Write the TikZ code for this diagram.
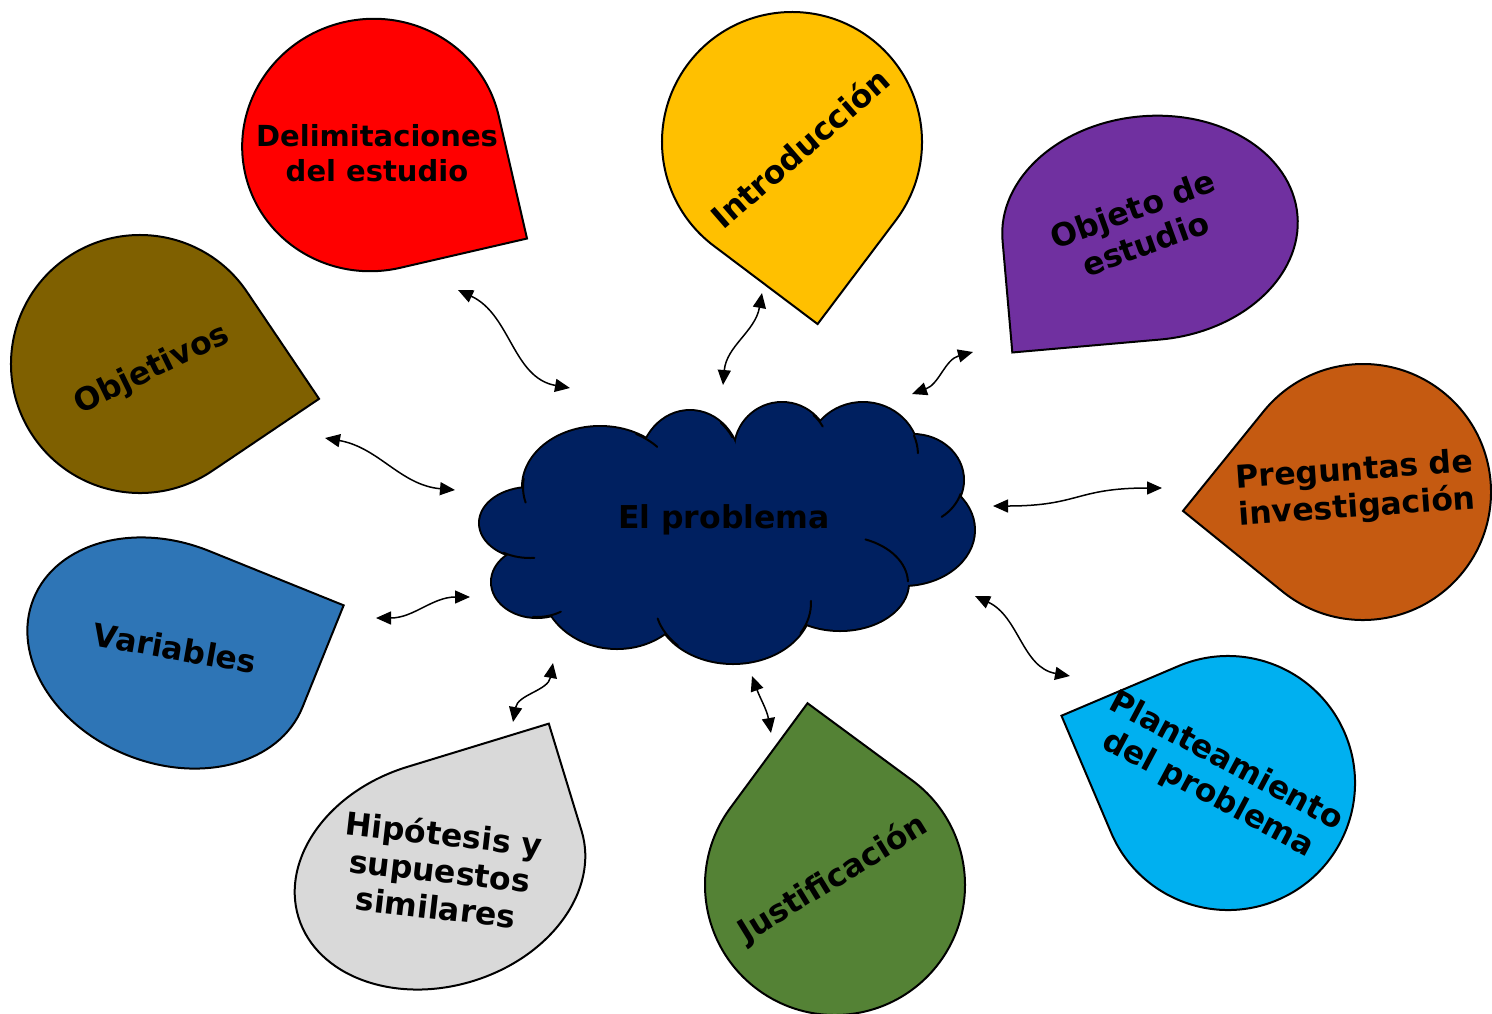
\documentclass[tikz,border=0pt]{standalone}
\usepackage{fontspec}
\setmainfont{DejaVu Sans}
\usepackage{xcolor}
\definecolor{delimred}{HTML}{FF0000}
\definecolor{introyellow}{HTML}{FFC000}
\definecolor{objpurple}{HTML}{7030A0}
\definecolor{goalolive}{HTML}{7F6000}
\definecolor{askorange}{HTML}{C55A11}
\definecolor{varblue}{HTML}{2E75B6}
\definecolor{hypgrey}{HTML}{D9D9D9}
\definecolor{justgreen}{HTML}{548235}
\definecolor{plancyan}{HTML}{00B0F0}
\definecolor{probnavy}{HTML}{002060}
\usepackage{tikz}
\usetikzlibrary{arrows.meta}

\begin{document}
\begin{tikzpicture}[x=1pt, y=1pt,
    every node/.style={font=\fontsize{31.5}{37}\selectfont\bfseries},
    lbl/.style={align=center, inner sep=0pt},
    pics/drop/.style={code={
      \path[draw=black, line width=2pt, fill=#1]
        (1,0) arc[start angle=0, end angle=270, radius=1] -- (1,-1) -- cycle;}},
    puffline/.style={draw=black, line width=2pt, line cap=round},
    conn/.style={{Triangle[length=15pt,width=13pt]}-{Triangle[length=15pt,width=13pt]},
                 line width=1.5pt}]
  \useasboundingbox (0,0) rectangle (1492,-1013);
  \pic[rotate=13, xscale=130, yscale=126]  at (372,-145)  {drop=delimred};
  \pic[rotate=-37, xscale=130, yscale=130] at (792,-142)  {drop=introyellow};
  \pic[rotate=-85, xscale=112, yscale=148] at (1150,-228) {drop=objpurple};
  \pic[rotate=34, xscale=129, yscale=129]  at (140,-364)  {drop=goalolive};
  \pic[rotate=-129, xscale=128, yscale=128] at (1363,-492) {drop=askorange};
  \pic[rotate=68, xscale=110, yscale=145]  at (168,-653)  {drop=varblue};
  \pic[rotate=107, xscale=112, yscale=148] at (440,-874)  {drop=hypgrey};
  \pic[rotate=143.6, xscale=130, yscale=130] at (835,-885) {drop=justgreen};
  \pic[rotate=203, xscale=127, yscale=127] at (1228,-783) {drop=plancyan};
  % cloud: outline pass, then fill pass, then inner strokes
  \foreach \cx/\cy/\rx/\ry in {530/523/50/35, 600/487/77/60, 690/467/50/56,
      782/450/47/47, 863/455/55/52, 913/480/50/45, 903/530/71/55,
      840/583/68/47, 733/603/78/60, 617/583/75/65, 537/582/45/35}
    \draw[line width=4pt] (\cx,-\cy) ellipse[x radius=\rx, y radius=\ry];
  \foreach \cx/\cy/\rx/\ry in {530/523/50/35, 600/487/77/60, 690/467/50/56,
      782/450/47/47, 863/455/55/52, 913/480/50/45, 903/530/71/55,
      840/583/68/47, 733/603/78/60, 617/583/75/65, 537/582/45/35, 727/533/190/70}
    \fill[probnavy] (\cx,-\cy) ellipse[x radius=\rx, y radius=\ry];
  \foreach \cx/\cy/\rx/\ry/\sa/\ea in {600/487/77/60/62/42, 600/487/77/60/172/195,
      690/467/50/56/52/32, 782/450/47/47/48/30, 863/455/55/52/22/2,
      913/480/50/45/-18/-55, 840/583/68/47/68/2, 733/603/78/60/-30/2,
      733/603/78/60/195/225, 537/582/45/35/-95/-58, 530/523/50/35/238/275}
    \draw[puffline] ([shift={(\sa:{\rx} and {\ry})}]\cx,-\cy)
      arc[start angle=\sa, end angle=\ea, x radius=\rx, y radius=\ry];
  \node[lbl] (prob) at (724,-520) {El problema};
  \node[lbl, font=\fontsize{29}{35}\selectfont\bfseries] (delim) at (377,-153) {Delimitaciones\\del estudio};
  \node[lbl, rotate=41] (intro) at (800,-148) {Introducción};
  \node[lbl, rotate=20] (objeto) at (1139,-226) {Objeto de\\estudio};
  \node[lbl, rotate=26] (goals) at (152,-370) {Objetivos};
  \node[lbl, rotate=4] (asks) at (1356,-490) {Preguntas de\\investigación};
  \node[lbl, rotate=-10] (vars) at (175,-648) {Variables};
  \node[lbl, rotate=-6.5] (hyp) at (440,-870) {Hipótesis y\\supuestos\\similares};
  \node[lbl, rotate=31.5] (just) at (833,-879) {Justificación};
  \node[lbl, rotate=-28] (plan) at (1217,-778) {Planteamiento\\del problema};
  \coordinate (delimEnd) at (458,-290);
  \coordinate (delimTip) at (570,-388);
  \coordinate (introEnd) at (762,-293);
  \coordinate (introTip) at (723,-385);
  \coordinate (objetoEnd) at (973,-352);
  \coordinate (objetoTip) at (912,-394);
  \coordinate (goalsEnd) at (325,-438);
  \coordinate (goalsTip) at (455,-490);
  \coordinate (asksEnd) at (1162,-488);
  \coordinate (asksTip) at (993,-506);
  \coordinate (varsEnd) at (376,-618);
  \coordinate (varsTip) at (470,-597);
  \coordinate (hypEnd) at (513,-722);
  \coordinate (hypTip) at (553,-663);
  \coordinate (justEnd) at (771,-733);
  \coordinate (justTip) at (752,-676);
  \coordinate (planEnd) at (1070,-676);
  \coordinate (planTip) at (975,-596);
  \draw[conn] (delimEnd) to[out=-25, in=170] (delimTip);
  \draw[conn] (introEnd) to[out=-100, in=85] (introTip);
  \draw[conn] (objetoTip) to[out=20, in=195] (objetoEnd);
  \draw[conn] (goalsEnd) to[out=-10, in=175] (goalsTip);
  \draw[conn] (asksTip) to[out=0, in=180, looseness=1.3] (asksEnd);
  \draw[conn] (varsEnd) to[out=0, in=180] (varsTip);
  \draw[conn] (hypTip) to[out=-100, in=80] (hypEnd);
  \draw[conn] (justTip) to[out=-70, in=100] (justEnd);
  \draw[conn] (planTip) to[out=-25, in=170] (planEnd);
\end{tikzpicture}
\end{document}
